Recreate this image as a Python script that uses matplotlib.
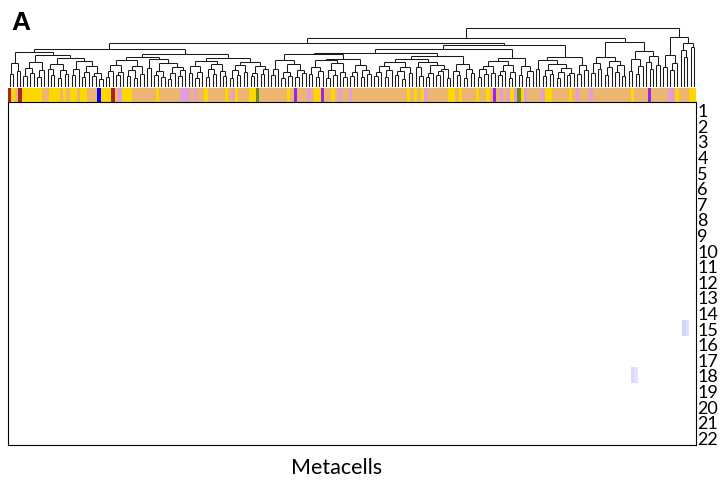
import numpy as np
import matplotlib
matplotlib.use('Agg')
import matplotlib.pyplot as plt
from matplotlib.collections import LineCollection
from matplotlib.colors import ListedColormap, LinearSegmentedColormap

# leaf annotation (cell type of each metacell), run-length encoded in leaf order
STRIP_RUNS = [
    ('red', 1), ('gold', 1), ('tan', 1), ('red', 1), ('gold', 6), ('tan', 2), ('gold', 3),
    ('tan', 1), ('gold', 1), ('tan', 1), ('gold', 2), ('tan', 1), ('gold', 2), ('tan', 3),
    ('blue', 1), ('gold', 3), ('red', 1), ('tan', 1), ('plum', 1), ('gold', 3), ('tan', 7),
    ('gold', 1), ('tan', 6), ('plum', 3), ('tan', 1), ('plum', 1), ('tan', 2), ('gold', 1),
    ('tan', 5), ('gold', 1), ('tan', 1), ('plum', 1), ('gold', 1), ('tan', 3), ('gold', 2),
    ('olive', 1), ('tan', 8), ('gold', 1), ('tan', 1), ('purple', 1), ('tan', 3), ('plum', 1),
    ('tan', 1), ('gold', 2), ('purple', 1), ('tan', 2), ('gold', 1), ('tan', 1), ('plum', 1),
    ('tan', 2), ('plum', 1), ('tan', 16), ('gold', 1), ('tan', 1), ('gold', 1), ('tan', 1),
    ('gold', 1), ('plum', 1), ('tan', 6), ('gold', 2), ('tan', 1), ('gold', 1), ('tan', 4),
    ('gold', 1), ('tan', 2), ('gold', 1), ('tan', 1), ('purple', 1), ('tan', 1), ('plum', 1),
    ('tan', 1), ('plum', 1), ('gold', 1), ('plum', 1), ('olive', 1), ('gold', 1), ('plum', 1),
    ('tan', 4), ('plum', 1), ('gold', 2), ('tan', 5), ('gold', 1), ('tan', 1), ('plum', 1),
    ('tan', 3), ('plum', 1), ('tan', 11), ('gold', 1), ('tan', 4), ('purple', 1), ('tan', 5),
    ('plum', 2), ('gold', 1), ('tan', 3), ('gold', 2),
]
CATEGORY_COLORS = {
    'tan': '#EAB672', 'gold': '#FFD700', 'red': '#B22222', 'blue': '#0000FF',
    'plum': '#DDA0DD', 'purple': '#A020F0', 'olive': '#6B8E23',
}

# dendrogram, newick-like: (left,right)height, x = leaf
C1 = "(((x,x)13,(x,x)16)24,((((x,x)11,(x,x)14)19,((x,x)10,x)17)25,(((x,(x,x)12)18,((x,x)9,(x,x)13)17)23,(((x,x)12,x)18,(((x,x)10,x)15,((x,x)11,(x,x)8)14)21)26)29)32)35"
G1 = "((((x,x)10,x)16,((x,x)12,x)15)22,(((x,x)11,(x,x)9)17,(x,x)13)21)27"
G2 = "((x,x)19,(((x,x)12,(x,x)10)16,(((x,x)8,x)14,((x,x)11,x)17)20)24)28"
G3 = "(((x,x)14,((x,x)9,x)15)21,(((x,x)10,(x,x)13)18,(x,(x,x)11)16)23)26"
G4 = "((((x,x)9,(x,x)12)17,(x,x)15)22,(((x,x)11,x)14,((x,x)13,x)18)21)25"
G5 = "(((x,x)12,x)18,(((x,x)9,(x,x)11)15,((x,x)10,(x,x)14)17)23)27"
G6 = "(((x,x)13,((x,x)10,x)16)20,(((x,x)9,(x,x)12)17,(x,(x,x)10)15)24)27"
G7 = "((((x,x)11,x)15,((x,x)10,x)17)21,(((x,x)12,(x,x)8)16,(x,x)14)20)25"
G8 = "((((x,x)10,(x,x)13)18,(x,x)14)21,(((x,x)12,x)16,((x,x)9,x)15)22)26"
G9 = "((x,(x,x)11)20,(((x,x)10,x)14,(((x,x)12,x)16,(x,x)9)18)22)25"
G10 = "((x,x)18,(((x,x)11,(x,x)13)17,(((x,x)9,x)15,((x,x)12,x)14)19)23)27"
S7A = "(((x,x)11,x)15,((x,x)10,(x,x)13)17)22"
S7B = "((x,(x,x)12)16,((x,x)9,(x,x)14)18)23"
S5 = "((x,x)12,((x,x)10,x)16)21"
S4 = "((x,x)13,(x,x)17)22"
D1 = "(((x,x)14,(x,x)18)24,(((x,x)12,x)20,((x,x)15,(x,x)11)22)26)30"
D2 = "(((x,x)16,((x,x)13,x)21)28,((x,(x,x)18)25,(x,x)22)31)36"
R = "(((x,x)20,((x,x)17,x)24)32,((x,(x,x)30)37,(x,x)40)44)50"

C2 = f"(({G1},{G2})30,({G3},{G4})29)33"
P11 = f"({G5},({G6},{S7A})28)33"
P12 = f"(({G7},{G9})28,{S7B})31"
P2 = f"({G8},{S5})29"
Q = f"({G10},{S4})30"
L1B = f"((({P11},{P12})34,{P2})38,{Q})42"
TREE = f"(((({C1},{C2})38,{L1B})44,({D1},{D2})45)49,{R})59"

# heatmap rows and the few non-zero cells
ROW_LABELS = [str(i) for i in range(1, 23)]
CELL_ROWS = [15, 15, 18, 18]
CELL_COLS = [196, 197, 181, 182]
CELL_VALUES = [0.17, 0.12, 0.15, 0.11]


def parse_tree(s):
    pos = 0

    def node():
        nonlocal pos
        if s[pos] == 'x':
            pos += 1
            return None
        pos += 1  # '('
        left = node()
        pos += 1  # ','
        right = node()
        pos += 1  # ')'
        start = pos
        while pos < len(s) and s[pos].isdigit():
            pos += 1
        return (float(s[start:pos]), left, right)

    return node()


def layout(node, segs, counter):
    # returns x position and height of the node, collects line segments
    if node is None:
        x = counter[0] + 0.5
        counter[0] += 1
        return x, 0.0
    h, left, right = node
    xl, hl = layout(left, segs, counter)
    xr, hr = layout(right, segs, counter)
    segs.append([(xl, hl), (xl, h)])
    segs.append([(xl, h), (xr, h)])
    segs.append([(xr, hr), (xr, h)])
    return (xl + xr) / 2, h


leaf_cats = [c for c, n in STRIP_RUNS for _ in range(n)]
n_leaves = len(leaf_cats)

segs = []
counter = [0]
layout(parse_tree(TREE), segs, counter)
assert counter[0] == n_leaves, (counter[0], n_leaves)

W, H = 721, 481
fig = plt.figure(figsize=(W / 100, H / 100), dpi=100)

# dendrogram
ax_d = fig.add_axes([8 / W, 1 - 88 / H, 688 / W, 60 / H])
ax_d.add_collection(LineCollection(segs, colors='#1a1a1a', linewidths=0.75))
ax_d.set_xlim(0, n_leaves)
ax_d.set_ylim(0, 60)
ax_d.axis('off')

# colour strip
cat_names = list(CATEGORY_COLORS)
codes = np.array([[cat_names.index(c) for c in leaf_cats]])
ax_s = fig.add_axes([8 / W, 1 - 102.5 / H, 688 / W, 14 / H])
ax_s.imshow(codes, cmap=ListedColormap([CATEGORY_COLORS[c] for c in cat_names]),
            vmin=-0.5, vmax=len(cat_names) - 0.5, aspect='auto',
            interpolation='nearest', extent=(0, n_leaves, 0, 1))
ax_s.axis('off')

# heatmap
mat = np.zeros((len(ROW_LABELS), n_leaves))
for r, c, v in zip(CELL_ROWS, CELL_COLS, CELL_VALUES):
    mat[r - 1, c] = v
cmap = LinearSegmentedColormap.from_list('wb', ['#FFFFFF', '#0000FF'])
ax_h = fig.add_axes([8 / W, 1 - 446 / H, 688 / W, 343 / H])
ax_h.imshow(mat, cmap=cmap, vmin=0, vmax=1, aspect='auto', interpolation='nearest',
            extent=(0, n_leaves, len(ROW_LABELS), 0))
ax_h.set_xticks([])
ax_h.set_yticks(np.arange(len(ROW_LABELS)) + 0.5)
ax_h.set_yticklabels(ROW_LABELS, fontsize=13, family='Lato')
ax_h.yaxis.tick_right()
ax_h.tick_params(axis='y', length=0, pad=1)
for sp in ax_h.spines.values():
    sp.set_linewidth(0.8)

fig.text(337 / W, 1 - 468 / H, 'Metacells', ha='center', va='center', fontsize=15.5, family='Lato')
fig.text(11 / W, 1 - 23 / H, 'A', ha='left', va='center', fontsize=19, weight='bold',
         family='Liberation Sans')

fig.savefig('out.png', dpi=100)
